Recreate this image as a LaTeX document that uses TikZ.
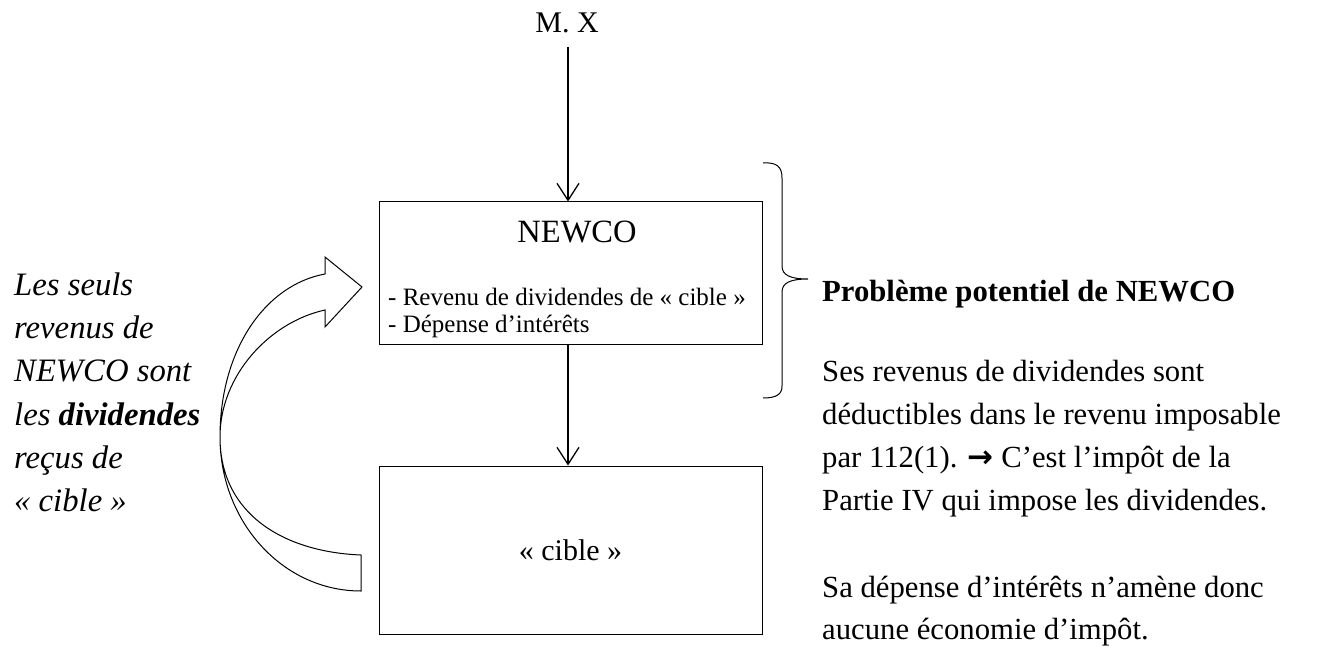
\documentclass[tikz,border=0pt]{standalone}
\usepackage{fontspec}
\setmainfont{Liberation Serif}
\newfontfamily\symfont{DejaVu Sans}
\usetikzlibrary{arrows.meta}
\newcommand\fsz[1]{\fontsize{#1}{#1}\selectfont}
\begin{document}
\begin{tikzpicture}[x=1pt,y=-1pt,
  box/.style={draw, line width=1pt, minimum width=383pt, minimum height=142pt, inner sep=0pt},
  link/.style={line width=1.3pt, -{Straight Barb[length=17pt,width=22pt,line width=1.3pt]}},
  txt/.style={inner sep=0pt, anchor=base west},
  rtxt/.style={txt, font=\fsz{30.7}},
  ltxt/.style={txt, font=\itshape\fsz{32.7}},
  thin/.style={line width=1pt}]
\useasboundingbox (0,0) rectangle (1337,652);
\fill[white] (0,0) rectangle (1337,652);

% nodes
\node[font=\fsz{30}, inner xsep=0pt, inner ysep=0pt, anchor=base] (mxt) at (567,33) {M. X};
\coordinate (mx) at (568,47);
\node[box] (newco) at (570.5,273) {};
\node[font=\fsz{32.5}, anchor=base, inner sep=0pt] (newcot) at (577,242) {NEWCO};
\node[txt, font=\fsz{25}] (l1) at (388,305) {- Revenu de dividendes de « cible »};
\node[txt, font=\fsz{25}] (l2) at (388,332) {- Dépense d’intérêts};
\node[box, minimum height=168pt, font=\fsz{30}] (cible) at (570.5,550) {« cible »};

% connectors
\draw[link] (mx) -- (mx |- newco.north);
\draw[link] (mx |- newco.south) -- (mx |- cible.north);

% brace
\draw[thin] (763,163) .. controls (777,162) and (782,167) .. (782,178) -- (782,266)
  .. controls (782,275) and (790,279) .. (808,279)
  .. controls (790,279) and (782,283) .. (782,292) -- (782,386)
  .. controls (782,394) and (777,398) .. (763,398);

% curved block arrow
\draw[thin, line join=miter] (361,591) -- (361,555)
  .. controls (285,552) and (220,515) .. (220,437)
  .. controls (220,375) and (270,322) .. (325,310)
  -- (325,327) -- (362,287) -- (325,257) -- (325,274)
  .. controls (265,285) and (220,350) .. (220,437)
  .. controls (220,521) and (282,591) .. (361,591) -- cycle;

% right text
\node[txt, font=\bfseries\fsz{30.7}] (prob) at (822,301) {Problème potentiel de NEWCO};
\node[rtxt] (r1) at (822,381) {Ses revenus de dividendes sont};
\node[rtxt] (r2) at (822,424) {déductibles dans le revenu imposable};
\node[rtxt] (r3) at (822,467) {par 112(1). {\symfont\bfseries\fsz{31}→} C’est l’impôt de la};
\node[rtxt] (r4) at (822,510) {Partie IV qui impose les dividendes.};
\node[rtxt] (r5) at (822,597) {Sa dépense d’intérêts n’amène donc};
\node[rtxt] (r6) at (822,639) {aucune économie d’impôt.};

% left text
\node[ltxt] (t1) at (14,295) {Les seuls};
\node[ltxt] (t2) at (14,338) {revenus de};
\node[ltxt] (t3) at (14,381) {NEWCO sont};
\node[ltxt] (t4) at (14,425) {les \textbf{dividendes}};
\node[ltxt] (t5) at (14,468) {reçus de};
\node[ltxt] (t6) at (14,511) {« cible »};
\end{tikzpicture}
\end{document}
